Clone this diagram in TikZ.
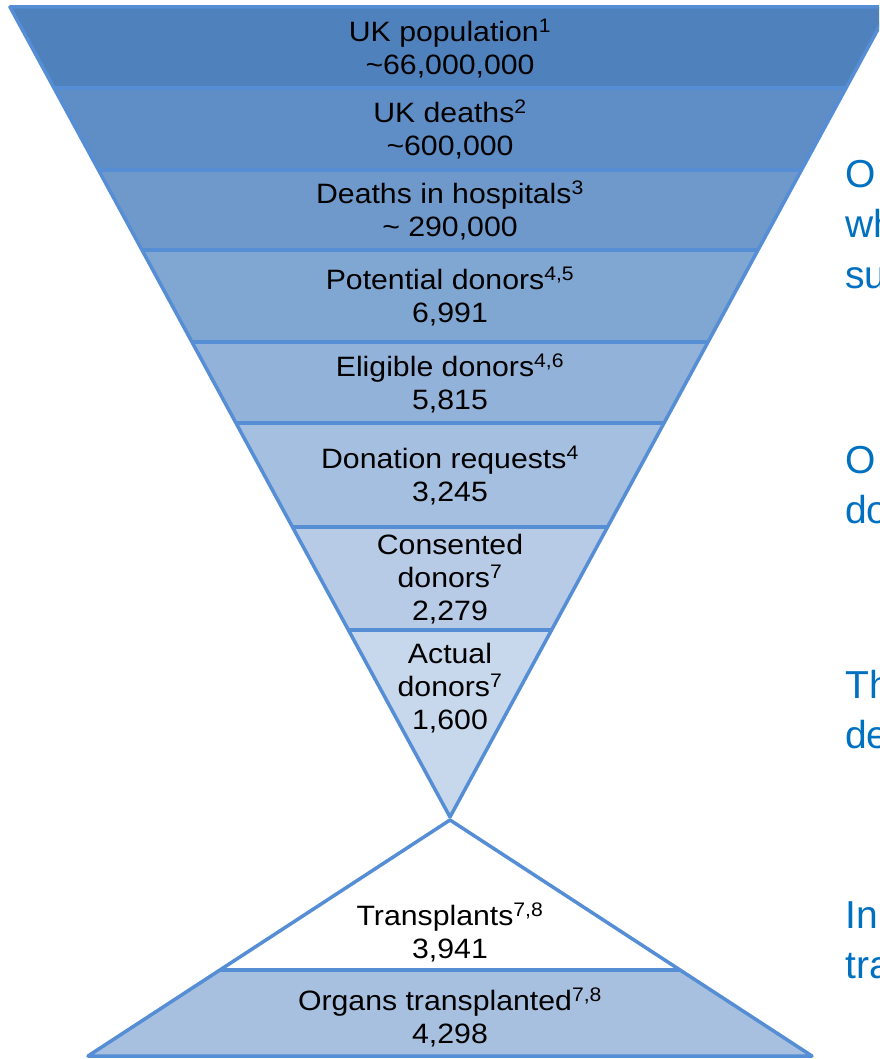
\documentclass[tikz,border=0pt]{standalone}
\usepackage{fontspec}
\setmainfont{Liberation Sans}
\newfontfamily\bandfont[FakeStretch=1.08]{Liberation Sans}
\definecolor{edgeblue}{HTML}{558ED5}
\definecolor{sideblue}{HTML}{0070C0}
\definecolor{bA}{HTML}{4F81BD}
\definecolor{bB}{HTML}{5F8DC5}
\definecolor{bC}{HTML}{6F99CB}
\definecolor{bD}{HTML}{80A6D2}
\definecolor{bE}{HTML}{93B2D9}
\definecolor{bF}{HTML}{A5BFE0}
\definecolor{bG}{HTML}{B7CBE6}
\definecolor{bH}{HTML}{C8D8EC}
\definecolor{bI}{HTML}{A7C0DF}
\begin{document}
\begin{tikzpicture}[x=1pt,y=-1pt,
  bandtext/.style={font=\bandfont\fontsize{28}{33}\selectfont, align=center, inner sep=0pt, text=black},
  sidetext/.style={font=\fontsize{39}{45}\selectfont, text=sideblue, anchor=base west, inner sep=0pt},
  outline/.style={draw=edgeblue, line width=3.5pt, line join=round}]
\useasboundingbox (0,0) rectangle (879,1059);
\clip (0,0) rectangle (879,1059);
% funnel bands
\fill[bA] (10,7) -- (890,7) -- (846,88) -- (54,88) -- cycle;
\fill[bB] (54,88) -- (846,88) -- (801.5,170) -- (98.5,170) -- cycle;
\fill[bC] (98.5,170) -- (801.5,170) -- (758,250) -- (142,250) -- cycle;
\fill[bD] (142,250) -- (758,250) -- (708,342) -- (192,342) -- cycle;
\fill[bE] (192,342) -- (708,342) -- (664,423) -- (236,423) -- cycle;
\fill[bF] (236,423) -- (664,423) -- (607.5,527) -- (292.5,527) -- cycle;
\fill[bG] (292.5,527) -- (607.5,527) -- (551.6,630) -- (348.4,630) -- cycle;
\fill[bH] (348.4,630) -- (551.6,630) -- (450,817) -- cycle;
\draw[outline] (54,88) -- (846,88);
\draw[outline] (98.5,170) -- (801.5,170);
\draw[outline] (142,250) -- (758,250);
\draw[outline] (192,342) -- (708,342);
\draw[outline] (236,423) -- (664,423);
\draw[outline] (292.5,527) -- (607.5,527);
\draw[outline] (348.4,630) -- (551.6,630);
\draw[outline] (10,7) -- (890,7) -- (450,817) -- cycle;
% pyramid
\fill[white] (450,820) -- (680,970) -- (220,970) -- cycle;
\fill[bI] (220,970) -- (680,970) -- (812,1056) -- (88,1056) -- cycle;
\draw[outline] (220,970) -- (680,970);
\draw[outline] (450,820) -- (812,1056) -- (88,1056) -- cycle;
% band texts
\node[bandtext] (t1) at (450,49) {UK population\textsuperscript{1}\\\textasciitilde 66,000,000};
\node[bandtext] (t2) at (450,129) {UK deaths\textsuperscript{2}\\\textasciitilde 600,000};
\node[bandtext] (t3) at (450,210) {Deaths in hospitals\textsuperscript{3}\\\textasciitilde\ 290,000};
\node[bandtext] (t4) at (450,297) {Potential donors\textsuperscript{4,5}\\6,991};
\node[bandtext] (t5) at (450,383) {Eligible donors\textsuperscript{4,6}\\5,815};
\node[bandtext] (t6) at (450,476) {Donation requests\textsuperscript{4}\\3,245};
\node[bandtext] (t7) at (450,579) {Consented\\donors\textsuperscript{7}\\2,279};
\node[bandtext] (t8) at (450,688) {Actual\\donors\textsuperscript{7}\\1,600};
\node[bandtext] (t9) at (450,932) {Transplants\textsuperscript{7,8}\\3,941};
\node[bandtext] (t10) at (450,1017) {Organs transplanted\textsuperscript{7,8}\\4,298};
% right-side texts (cut off at the edge, as in the reference)
\node[sidetext] (s1) at (845,188) {O};
\node[sidetext] (s2) at (845,238) {wh};
\node[sidetext] (s3) at (845,288) {su};
\node[sidetext] (s4) at (845,473) {O};
\node[sidetext] (s5) at (845,523) {do};
\node[sidetext] (s6) at (845,698) {Th};
\node[sidetext] (s7) at (845,748) {de};
\node[sidetext] (s8) at (845,928) {In};
\node[sidetext] (s9) at (845,978) {tra};
\end{tikzpicture}
\end{document}
